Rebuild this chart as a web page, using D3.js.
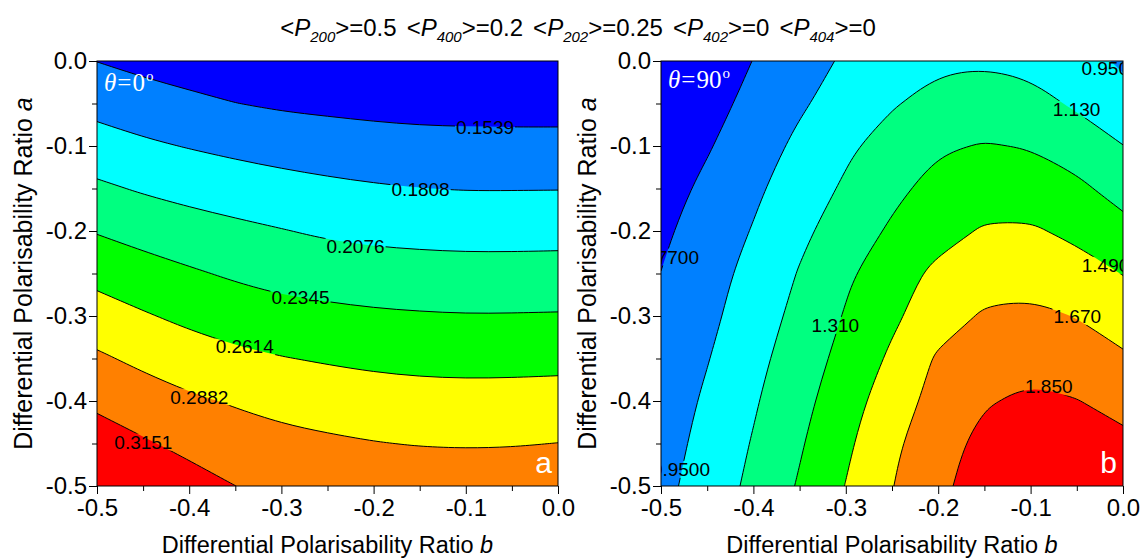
<!DOCTYPE html>
<html><head><meta charset="utf-8">
<script src="https://cdn.jsdelivr.net/npm/d3@7"></script>
<style>body{margin:0;background:#fff}svg{display:block}</style>
</head><body><svg id="c" width="1141" height="558"></svg>
<script>
// ---------------- data ----------------
const bValues = [-0.5,-0.45,-0.4,-0.35,-0.3,-0.25,-0.2,-0.15,-0.1,-0.05,0];
const aValues = [0,-0.05,-0.1,-0.15,-0.2,-0.25,-0.3,-0.35,-0.4,-0.45,-0.5];
const xTicks = [-0.5,-0.4,-0.3,-0.2,-0.1,0.0];
const yTicks = [0.0,-0.1,-0.2,-0.3,-0.4,-0.5];
const levelsTheta0 = [0.1539,0.1808,0.2076,0.2345,0.2614,0.2882,0.3151];
const levelsTheta90 = [0.77,0.95,1.13,1.31,1.49,1.67,1.85];
const bandColors = ["#0000FF","#0080FF","#00FFFF","#00FF80","#00FF00","#FFFF00","#FF8000","#FF0000"];
const titleSubscripts = ["200","400","202","402","404"];
const titleValues = ["0.5","0.2","0.25","0","0"];
// grid rows = aValues (top to bottom), columns = bValues (left to right)
const gridTheta0 = [
0.1535,0.1467,0.1407,0.1340,0.1301,0.1289,0.1275,0.1263,0.1266,0.1260,0.1258,
0.1725,0.1657,0.1601,0.1543,0.1503,0.1481,0.1461,0.1446,0.1443,0.1440,0.1439,
0.1920,0.1849,0.1795,0.1746,0.1705,0.1674,0.1647,0.1629,0.1621,0.1619,0.1620,
0.2122,0.2049,0.1992,0.1944,0.1900,0.1862,0.1832,0.1812,0.1798,0.1799,0.1801,
0.2329,0.2253,0.2186,0.2134,0.2087,0.2039,0.2010,0.1995,0.1985,0.1985,0.1989,
0.2534,0.2449,0.2377,0.2310,0.2255,0.2222,0.2195,0.2180,0.2171,0.2172,0.2177,
0.2732,0.2638,0.2555,0.2489,0.2435,0.2407,0.2381,0.2366,0.2356,0.2358,0.2363,
0.2921,0.2825,0.2739,0.2671,0.2624,0.2590,0.2561,0.2543,0.2535,0.2538,0.2544,
0.3099,0.3004,0.2921,0.2858,0.2798,0.2759,0.2729,0.2710,0.2704,0.2707,0.2717,
0.3278,0.3179,0.3085,0.3007,0.2958,0.2922,0.2891,0.2871,0.2864,0.2869,0.2885,
0.3456,0.3354,0.3250,0.3152,0.3107,0.3075,0.3047,0.3030,0.3024,0.3028,0.3042];
const gridTheta90 = [
0.585,0.675,0.773,0.872,0.975,1.056,1.100,1.112,1.085,1.019,0.924,
0.620,0.709,0.817,0.928,1.023,1.115,1.190,1.214,1.185,1.105,1.020,
0.655,0.755,0.871,0.986,1.099,1.205,1.290,1.320,1.300,1.235,1.133,
0.700,0.807,0.919,1.036,1.155,1.269,1.368,1.416,1.407,1.345,1.245,
0.739,0.849,0.960,1.091,1.218,1.334,1.426,1.508,1.512,1.448,1.365,
0.772,0.883,1.004,1.141,1.282,1.413,1.533,1.602,1.610,1.567,1.485,
0.794,0.907,1.041,1.179,1.323,1.458,1.588,1.690,1.706,1.664,1.589,
0.823,0.942,1.078,1.220,1.366,1.519,1.695,1.767,1.796,1.768,1.693,
0.850,0.977,1.111,1.257,1.413,1.586,1.729,1.835,1.884,1.855,1.793,
0.875,1.006,1.142,1.292,1.457,1.637,1.782,1.900,1.940,1.935,1.892,
0.900,1.032,1.170,1.327,1.495,1.664,1.812,1.930,1.990,2.000,1.970];
// contour label texts and where they sit (b, a)
const labelsTheta0 = ["0.1539","0.1808","0.2076","0.2345","0.2614","0.2882","0.3151"];
const labelAtTheta0 = [[-0.0792,-0.0782],[-0.149,-0.151],[-0.2196,-0.2173],[-0.2793,-0.278],[-0.3398,-0.336],[-0.389,-0.395],[-0.4497,-0.448]];
const labelsTheta90 = ["0.7700","0.9500","0.9500","1.130","1.310","1.490","1.670","1.850"];
const labelAtTheta90 = [[-0.4903,-0.2302],[-0.0135,-0.0086],[-0.4784,-0.48],[-0.0503,-0.0565],[-0.3113,-0.3106],[-0.0189,-0.24],[-0.0495,-0.30],[-0.0803,-0.383]];

// ---------------- drawing ----------------
const svg = d3.select("#c");
const FONT = "Arial, 'Liberation Sans', sans-serif";
const SERIF = "'Times New Roman', 'Liberation Serif', serif";
const plotTop = 61, plotBottom = 486;
const fmt = d => d3.format(".1f")(d).replace("\u2212","-");

const panels = [
  {x0:97, x1:558, grid:gridTheta0, levels:levelsTheta0, labels:labelsTheta0, labelAt:labelAtTheta0, theta:"0", letter:"a", id:"p0"},
  {x0:661, x1:1123, grid:gridTheta90, levels:levelsTheta90, labels:labelsTheta90, labelAt:labelAtTheta90, theta:"90", letter:"b", id:"p1"}
];

// ring -> path: straight along the grid border, B-spline along the contour itself
function ringPath(ring, nB, nA, gx, gy) {
  const r = ring.slice();
  if (r.length > 1 && r[0][0] === r[r.length-1][0] && r[0][1] === r[r.length-1][1]) r.pop();
  const onEdge = q => q[0] <= 0 || q[0] >= nB || q[1] <= 0 || q[1] >= nA;
  const P = d3.path();
  const pts = r.map(q => [gx(q[0]), gy(q[1])]);
  const start = r.findIndex(onEdge);
  if (start < 0) {
    d3.line().curve(d3.curveBasisClosed).context(P)(pts);
    return P.toString();
  }
  const seq = pts.slice(start).concat(pts.slice(0, start));
  const flags = r.slice(start).concat(r.slice(0, start)).map(onEdge);
  const wrap = {
    first: true,
    moveTo(x, y) { if (this.first) { P.moveTo(x, y); this.first = false; } else P.lineTo(x, y); },
    lineTo(x, y) { P.lineTo(x, y); },
    bezierCurveTo(a, b, c, d, e, f) { P.bezierCurveTo(a, b, c, d, e, f); },
    closePath() {}
  };
  const spline = d3.line().curve(d3.curveBasis).context(wrap);
  wrap.moveTo(seq[0][0], seq[0][1]);
  let i = 1;
  while (i < seq.length) {
    if (flags[i]) { wrap.lineTo(seq[i][0], seq[i][1]); i++; continue; }
    const run = [];
    while (i < seq.length && !flags[i]) { run.push(seq[i]); i++; }
    if (run.length <= 2) run.forEach(q => wrap.lineTo(q[0], q[1]));
    else spline(run);
  }
  P.closePath();
  return P.toString();
}

panels.forEach(p => {
  const x = d3.scaleLinear().domain([-0.5, 0]).range([p.x0, p.x1]);
  const y = d3.scaleLinear().domain([0, -0.5]).range([plotTop, plotBottom]);
  const nB = bValues.length, nA = aValues.length;
  const gx = d3.scaleLinear().domain([0.5, nB - 0.5]).range([x(bValues[0]), x(bValues[nB-1])]);
  const gy = d3.scaleLinear().domain([0.5, nA - 0.5]).range([y(aValues[0]), y(aValues[nA-1])]);
  const pathOf = mp => mp.coordinates.map(poly => poly.map(ring => ringPath(ring, nB, nA, gx, gy)).join("")).join("");

  const contours = d3.contours().size([nB, nA]).thresholds(p.levels)(p.grid);

  const defs = svg.append("defs");
  defs.append("clipPath").attr("id", p.id + "clip").append("rect")
    .attr("x", p.x0).attr("y", plotTop).attr("width", p.x1 - p.x0).attr("height", plotBottom - plotTop);
  const mask = defs.append("mask").attr("id", p.id + "mask").attr("maskUnits","userSpaceOnUse")
    .attr("x",0).attr("y",0).attr("width",1141).attr("height",558);
  mask.append("rect").attr("x",0).attr("y",0).attr("width",1141).attr("height",558).attr("fill","#fff");

  const g = svg.append("g").attr("clip-path", `url(#${p.id}clip)`);
  g.append("rect").attr("x", p.x0).attr("y", plotTop).attr("width", p.x1 - p.x0).attr("height", plotBottom - plotTop)
    .attr("fill", bandColors[0]);
  const paths = contours.map(pathOf);
  paths.forEach((d, i) => {
    g.append("path").attr("d", d).attr("fill", bandColors[i+1]).attr("fill-rule","evenodd");
  });
  const lines = g.append("g").attr("mask", `url(#${p.id}mask)`);
  paths.forEach(d => {
    lines.append("path").attr("d", d).attr("fill","none").attr("stroke","#000")
      .attr("stroke-width",1).attr("stroke-linejoin","round");
  });
  const lab = g.append("g");
  p.labels.forEach((t, i) => {
    const el = lab.append("text").attr("x", x(p.labelAt[i][0])).attr("y", y(p.labelAt[i][1]))
      .attr("text-anchor","middle").attr("dy","0.36em")
      .attr("font-family", FONT).attr("font-size", 19).attr("fill","#000").text(t);
    const bb = el.node().getBBox();
    mask.append("rect").attr("x", bb.x - 1).attr("y", bb.y + 2).attr("width", bb.width + 2).attr("height", bb.height - 4).attr("fill","#000");
  });

  // theta annotation
  const th = svg.append("text").attr("x", p.x0 + 7).attr("y", p.theta === "0" ? 91 : 88)
    .attr("font-family", SERIF).attr("font-size", 25).attr("fill","#fff");
  th.append("tspan").attr("font-style","italic").text("\u03B8");
  th.append("tspan").attr("dx", 1).text("=");
  th.append("tspan").attr("dx", 1).text(p.theta);
  th.append("tspan").attr("font-size", 15).attr("dy", -10).attr("dx", 1).text("o");

  // panel letter
  svg.append("text").attr("x", p.x1 - 6).attr("y", 473).attr("text-anchor","end")
    .attr("font-family", FONT).attr("font-size", 30).attr("fill","#fff").text(p.letter);

  // frame
  svg.append("rect").attr("x", p.x0).attr("y", plotTop).attr("width", p.x1 - p.x0).attr("height", plotBottom - plotTop)
    .attr("fill","none").attr("stroke","#000").attr("stroke-width",1);

  // axes
  const minorX = d3.range(-0.45, 0, 0.1);
  const minorY = d3.range(-0.05, -0.5, -0.1);
  const ax = svg.append("g").attr("transform", `translate(0,${plotBottom})`)
    .call(d3.axisBottom(x).tickValues(xTicks).tickSize(8).tickPadding(5).tickFormat(fmt));
  const axm = svg.append("g").attr("transform", `translate(0,${plotBottom})`)
    .call(d3.axisBottom(x).tickValues(minorX).tickSize(5).tickFormat(""));
  const ay = svg.append("g").attr("transform", `translate(${p.x0},0)`)
    .call(d3.axisLeft(y).tickValues(yTicks).tickSize(8).tickPadding(2).tickFormat(fmt));
  const aym = svg.append("g").attr("transform", `translate(${p.x0},0)`)
    .call(d3.axisLeft(y).tickValues(minorY).tickSize(5).tickFormat(""));
  [ax, axm, ay, aym].forEach(a => {
    a.select(".domain").remove();
    a.selectAll("line").attr("stroke","#000");
    a.selectAll("text").attr("font-family", FONT).attr("font-size", 24).attr("fill","#000");
  });

  // axis titles
  const xt = svg.append("text").attr("x", (p.x0 + p.x1) / 2).attr("y", 553).attr("text-anchor","middle")
    .attr("font-family", FONT).attr("font-size", 23.5).attr("fill","#000");
  xt.append("tspan").text("Differential Polarisability Ratio ");
  xt.append("tspan").attr("font-style","italic").text("b");
  const yt = svg.append("text").attr("transform", `translate(${p.x0 - 65},${(plotTop + plotBottom) / 2}) rotate(-90)`)
    .attr("text-anchor","middle").attr("font-family", FONT).attr("font-size", 25).attr("fill","#000");
  yt.append("tspan").text("Differential Polarisability Ratio ");
  yt.append("tspan").attr("font-style","italic").text("a");
});

// title
const title = svg.append("text").attr("x", 578).attr("y", 36).attr("text-anchor","middle")
  .attr("font-family", FONT).attr("font-size", 24).attr("fill","#000");
titleSubscripts.forEach((s, i) => {
  title.append("tspan").attr("dx", i ? 10 : 0).text("<");
  title.append("tspan").attr("font-style","italic").text("P");
  title.append("tspan").attr("font-style","italic").attr("font-size", 15).attr("dy", 6).text(s);
  title.append("tspan").attr("dy", -6).text(">=" + titleValues[i]);
});
</script></body></html>
